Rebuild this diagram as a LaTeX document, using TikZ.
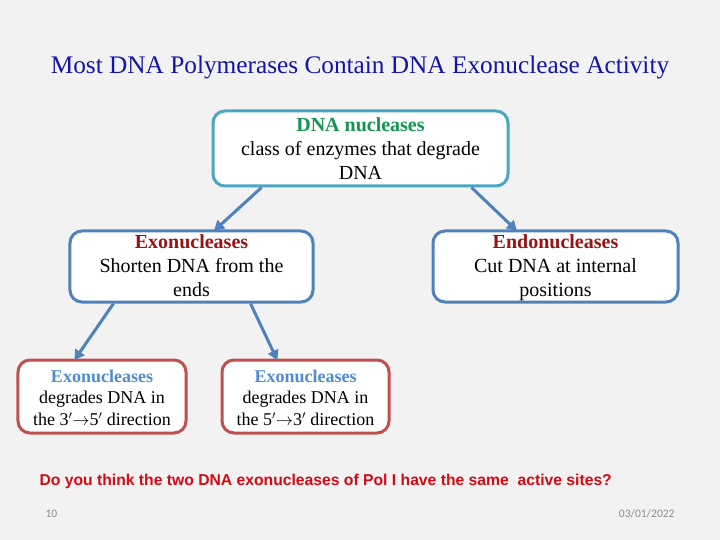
\documentclass[tikz,border=0pt]{standalone}
\usepackage{fontspec}
\setmainfont{Liberation Serif}
\newfontfamily\footfont{Carlito}
\newfontfamily\askfont{Liberation Sans}
\usetikzlibrary{arrows.meta}
\definecolor{bgc}{RGB}{242,242,242}
\definecolor{titleblue}{RGB}{20,20,170}
\definecolor{tealb}{RGB}{75,165,195}
\definecolor{blueb}{RGB}{79,129,189}
\definecolor{redb}{RGB}{192,80,77}
\definecolor{greent}{RGB}{20,150,80}
\definecolor{darkred}{RGB}{150,20,20}
\definecolor{lightblue}{RGB}{80,140,210}
\definecolor{askred}{RGB}{210,10,20}
\definecolor{footgray}{RGB}{140,140,140}
\tikzset{
  box/.style={draw, line width=3bp, rounded corners=12bp, fill=white, inner sep=0pt},
  txt/.style={align=center, inner sep=0pt},
  bigtext/.style={font=\fontsize{20bp}{24bp}\selectfont},
  smalltext/.style={font=\fontsize{18bp}{21.5bp}\selectfont},
  conn/.style={draw=blueb, line width=3bp, -{Triangle[length=10bp,width=11bp]}, shorten >=-2bp}
}
\begin{document}
\begin{tikzpicture}[x=1bp,y=-1bp]
\fill[bgc] (0,0) rectangle (720,540);
\useasboundingbox (0,0) rectangle (720,540);
\node[text=titleblue, font=\fontsize{25.3bp}{28bp}\selectfont] (title) at (360,67) {Most DNA Polymerases Contain DNA Exonuclease Activity};
% boxes
\node[box, draw=tealb, minimum width=295bp, minimum height=75bp] (top) at (360.5,148.5) {};
\node[box, draw=blueb, minimum width=243bp, minimum height=71bp] (exo) at (191.5,266.5) {};
\node[box, draw=blueb, minimum width=245bp, minimum height=71bp] (endo) at (555.5,266.5) {};
\node[box, draw=redb, minimum width=168bp, minimum height=73bp] (bl) at (102,396.5) {};
\node[box, draw=redb, minimum width=167bp, minimum height=73bp] (bm) at (305.5,396.5) {};
% texts
\node[txt, bigtext] (toptxt) at ([yshift=-2bp]top.center)
  {\strut\textcolor{greent}{\textbf{DNA nucleases}}\\class of enzymes that degrade\\DNA\strut};
\node[txt, bigtext] (exotxt) at ([yshift=-1bp]exo.center)
  {\strut\textcolor{darkred}{\textbf{Exonucleases}}\\Shorten DNA from the\\ends\strut};
\node[txt, bigtext] (endotxt) at ([yshift=-1bp]endo.center)
  {\strut\textcolor{darkred}{\textbf{Endonucleases}}\\Cut DNA at internal\\positions\strut};
\node[txt, smalltext] (bltxt) at ([yshift=-3bp]bl.center)
  {\strut\textcolor{lightblue}{\textbf{Exonucleases}}\\degrades DNA in\\the 3$'{\rightarrow}$5$'$ direction\strut};
\node[txt, smalltext] (bmtxt) at ([yshift=-3bp]bm.center)
  {\strut\textcolor{lightblue}{\textbf{Exonucleases}}\\degrades DNA in\\the 5$'{\rightarrow}$3$'$ direction\strut};
% connectors
\draw[conn] ([xshift=50bp]top.south west) -- ([xshift=147bp]exo.north west);
\draw[conn] ([xshift=260bp]top.south west) -- ([xshift=84bp]endo.north west);
\draw[conn] ([xshift=45bp]exo.south west) -- ([xshift=59bp]bl.north west);
\draw[conn] ([xshift=182bp]exo.south west) -- ([xshift=56bp]bm.north west);
% footer
\node[anchor=west, text=askred, font=\askfont\bfseries\fontsize{15.7bp}{17bp}\selectfont] (ask) at (36,481)
  {Do you think the two DNA exonucleases of Pol I have the same\ \ active sites?};
\node[anchor=west, text=footgray, font=\footfont\fontsize{11.5bp}{13bp}\selectfont] (num) at (42,514) {10};
\node[anchor=east, text=footgray, font=\footfont\fontsize{11.5bp}{13bp}\selectfont] (date) at (678,514) {03/01/2022};
\end{tikzpicture}
\end{document}
